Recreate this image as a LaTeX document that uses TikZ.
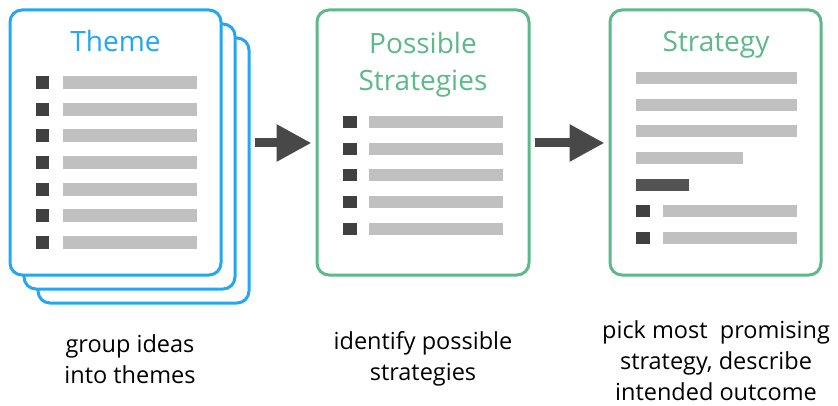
\documentclass[tikz,border=0pt]{standalone}
\usepackage{fontspec}
\setmainfont{Open Sans}
\usetikzlibrary{arrows.meta}

\definecolor{themeblue}{HTML}{22A7F5}
\definecolor{stratgreen}{HTML}{5CB98A}
\definecolor{bulletdark}{HTML}{404040}
\definecolor{bargrey}{HTML}{C0C0C0}
\definecolor{arrowdark}{HTML}{484848}

\begin{document}
\begin{tikzpicture}[
  x=1pt,
  y=-1pt,
  card/.style={draw=#1, line width=3pt, rounded corners=12pt, fill=white, minimum width=211pt, minimum height=265pt, inner sep=0pt},
  title/.style={text=#1, font=\fontsize{28}{37}\selectfont, align=center, inner sep=0pt},
  caption/.style={font=\fontsize{23.5}{31}\selectfont, align=center, inner sep=0pt},
  flow/.style={arrowdark, line width=9pt, -{Triangle[length=35pt,width=35pt]}, shorten <=4pt, shorten >=4pt},
  bullet/.style={fill=bulletdark},
  bar/.style={fill=bargrey}
]
  \useasboundingbox (0,0) rectangle (838,406);

  % stack of theme cards
  \node[card=themeblue] (themeC) at (143.5,170.5) {};
  \node[card=themeblue] (themeB) at (129.5,156.5) {};
  \node[card=themeblue] (theme) at (115.5,142.5) {};
  \node[card=stratgreen, minimum width=212pt] (possible) at (423,142.5) {};
  \node[card=stratgreen] (strategy) at (715.5,142.5) {};

  \node[title=themeblue, anchor=base] (themeT) at (115.5,51.7) {Theme};
  \node[title=stratgreen] (possibleT) at (423,64.5) {Possible\\Strategies};
  \node[title=stratgreen, anchor=base] (strategyT) at (716,51.7) {Strategy};

  % list rows
  \foreach \i in {0,...,6} {
    \fill[bullet] (36,{76+26.7*\i}) rectangle (49,{89+26.7*\i});
    \fill[bar] (63,{76+26.7*\i}) rectangle (197,{89+26.7*\i});
  }
  \foreach \i in {0,...,4} {
    \fill[bullet] (343,{116+26.7*\i}) rectangle (357,{128+26.7*\i});
    \fill[bar] (369,{116+26.7*\i}) rectangle (503,{128+26.7*\i});
  }
  \foreach \i in {0,...,2}
    \fill[bar] (636,{72+26.7*\i}) rectangle (797,{84+26.7*\i});
  \fill[bar] (636,152) rectangle (743,164);
  \fill[bulletdark!90] (636,179) rectangle (689,191);
  \foreach \i in {0,1} {
    \fill[bullet] (636,{205+26.7*\i}) rectangle (650,{217+26.7*\i});
    \fill[bar] (663,{205+26.7*\i}) rectangle (797,{217+26.7*\i});
  }

  \draw[flow] (themeC.east |- 0,143) -- (possible.west |- 0,143);
  \draw[flow] (possible.east |- 0,143) -- (strategy.west |- 0,143);

  \node[caption] (groupL) at (130,359) {group ideas\\into themes};
  \node[caption] (identifyL) at (423,359) {identify possible\\strategies};
  \node[caption] (pickL) at (716,361) {pick most~ promising\\strategy, describe\\intended outcome};
\end{tikzpicture}
\end{document}
